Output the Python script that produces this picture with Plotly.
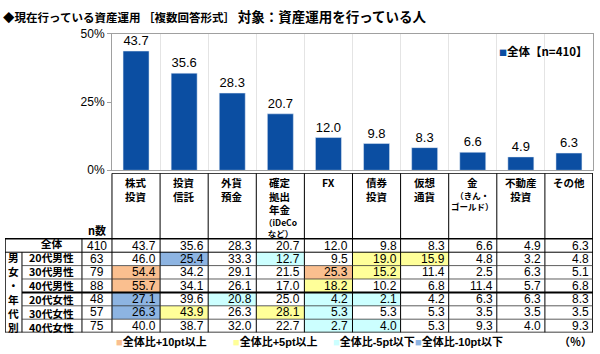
import plotly.graph_objects as go

# ---------------- data ----------------
TITLE_MAIN = "◆現在行っている資産運用 ［複数回答形式］"
TITLE_TARGET = "対象：資産運用を行っている人"
CATEGORIES = ["株式\n投資", "投資\n信託", "外貨\n預金", "確定\n拠出\n年金\n（iDeCo\nなど）", "FX",
              "債券\n投資", "仮想\n通貨", "金\n（きん・\nゴールド）", "不動産\n投資", "その他"]
TOTAL_VALUES = [43.7, 35.6, 28.3, 20.7, 12.0, 9.8, 8.3, 6.6, 4.9, 6.3]
TOTAL_NAME = "全体【n=410】"

ROW_LABELS = ["全体", "20代男性", "30代男性", "40代男性", "20代女性", "30代女性", "40代女性"]
GROUP_CHARS = ["男", "女", "・", "年", "代", "別"]
N_VALUES = [410, 63, 79, 88, 48, 57, 75]
TABLE_VALUES = [
    [43.7, 35.6, 28.3, 20.7, 12.0, 9.8, 8.3, 6.6, 4.9, 6.3],
    [46.0, 25.4, 33.3, 12.7, 9.5, 19.0, 15.9, 4.8, 3.2, 4.8],
    [54.4, 34.2, 29.1, 21.5, 25.3, 15.2, 11.4, 2.5, 6.3, 5.1],
    [55.7, 34.1, 26.1, 17.0, 18.2, 10.2, 6.8, 11.4, 5.7, 6.8],
    [27.1, 39.6, 20.8, 25.0, 4.2, 2.1, 4.2, 6.3, 6.3, 8.3],
    [26.3, 43.9, 26.3, 28.1, 5.3, 5.3, 5.3, 3.5, 3.5, 3.5],
    [40.0, 38.7, 32.0, 22.7, 2.7, 4.0, 5.3, 9.3, 4.0, 9.3],
]
# highlight level: 2=+10pt, 1=+5pt, -1=-5pt, -2=-10pt
HIGHLIGHT = [
    [0, 0, 0, 0, 0, 0, 0, 0, 0, 0],
    [0, -2, 0, -1, 0, 1, 1, 0, 0, 0],
    [2, 0, 0, 0, 2, 1, 0, 0, 0, 0],
    [2, 0, 0, 0, 1, 0, 0, 0, 0, 0],
    [-2, 0, -1, 0, -1, -1, 0, 0, 0, 0],
    [-2, 1, 0, 1, -1, 0, 0, 0, 0, 0],
    [0, 0, 0, 0, -1, -1, 0, 0, 0, 0],
]
LEGEND_ITEMS = ["全体比+10pt以上", "全体比+5pt以上", "全体比-5pt以下", "全体比-10pt以下"]
N_HEADER = "n数"
UNIT = "（％）"

# ---------------- style ----------------
W, H = 600, 354
BAR_COLOR = "#0B4EA2"
C_ORANGE, C_YELLOW, C_CYAN, C_BLUE = "#FABF8F", "#FFFF99", "#CCFFFF", "#8DB4E2"
LEGEND_COLORS = [C_ORANGE, C_YELLOW, C_CYAN, C_BLUE]
FONT = "Liberation Sans, Arial, Noto Sans CJK JP"
JFONT = "Noto Sans CJK JP, Liberation Sans"

def PX(x):
    return x / W

def PY(y):
    return 1 - y / H

# table geometry in axis units (one data column = 1 unit)
W_GROUP, W_LABEL, W_N = 0.353, 1.247, 0.624
LEFT_TOTAL = W_GROUP + W_LABEL + W_N
HEADER_U = 4.9
HEAD_MAIN_SIZE, HEAD_SUB_SIZE = 10.5, 8.5
TABLE_TOP_PX, TABLE_BOTTOM_PX = 173, 339
ncol = len(CATEGORIES)
nrow = len(ROW_LABELS)
ROW_PX = (TABLE_BOTTOM_PX - TABLE_TOP_PX) / (nrow + HEADER_U)
STACK_SIZE = ROW_PX / 1.3   # font size whose line pitch equals one row

fig = go.Figure()

# bar chart
fig.add_trace(go.Bar(
    x=list(range(ncol)), y=TOTAL_VALUES, width=0.54, marker_color=BAR_COLOR,
    text=[f"{v:.1f}" for v in TOTAL_VALUES], textposition="outside", cliponaxis=False,
    textfont=dict(family=FONT, size=13, color="#000"), name=TOTAL_NAME,
    showlegend=False, hoverinfo="skip", xaxis="x", yaxis="y"))

# table fill colors via heatmap
fig.add_trace(go.Heatmap(
    x=list(range(ncol)), y=list(range(nrow)), z=HIGHLIGHT, zmin=-2, zmax=2,
    colorscale=[[0, C_BLUE], [0.125, C_BLUE], [0.125, C_CYAN], [0.375, C_CYAN],
                [0.375, "#FFFFFF"], [0.625, "#FFFFFF"], [0.625, C_YELLOW], [0.875, C_YELLOW],
                [0.875, C_ORANGE], [1, C_ORANGE]],
    showscale=False, hoverinfo="skip", xaxis="x2", yaxis="y2"))

e0 = -0.5 - LEFT_TOTAL
e1 = e0 + W_GROUP
e2 = e1 + W_LABEL
e3 = e2 + W_N
h0 = -0.5 - HEADER_U
right = ncol - 0.5
bottom = nrow - 0.5

shapes = []

def line(x0, y0, x1, y1, w=1, c="#000"):
    shapes.append(dict(type="line", xref="x2", yref="y2", x0=x0, y0=y0, x1=x1, y1=y1,
                       line=dict(color=c, width=w), layer="above"))

# header
line(-0.5, h0, right, h0, 1.5)
for i in range(ncol + 1):
    line(i - 0.5, h0, i - 0.5, bottom, 1)
# outer frame of body
line(e0, -0.5, right, -0.5, 1.5)
line(e0, bottom, right, bottom, 1.5)
line(e0, -0.5, e0, bottom, 1.5)
line(right, h0, right, bottom, 1.5)
line(e1, 0.5, e1, bottom, 1)
line(e2, -0.5, e2, bottom, 1)
line(e0, 0.5, right, 0.5, 1)
for r in range(1, nrow - 1):
    if r == 3:
        line(e1, r + 0.5, right, r + 0.5, 2)
    else:
        line(e1, r + 0.5, right, r + 0.5, 0.8, "#333")

ann = []

def A(**kw):
    ann.append(kw)

# header labels: main lines in one block, parenthesised lines in a smaller block below
for i, cat in enumerate(CATEGORIES):
    lines = cat.split("\n")
    main = [l for l in lines if not l.startswith("（") and not l.endswith("）")]
    sub = [l for l in lines if l not in main]
    A(xref="x2", yref="y2", x=i, y=h0, yanchor="top", xanchor="center", yshift=-1,
      text="<br>".join(main), showarrow=False, borderpad=0,
      font=dict(family=JFONT, size=HEAD_MAIN_SIZE, color="#000", weight="bold"))
    if sub:
        A(xref="x2", yref="y2", x=i, y=h0, yanchor="top", xanchor="center",
          yshift=-(1 + 1.3 * HEAD_MAIN_SIZE * len(main)), text="<br>".join(sub),
          showarrow=False, borderpad=0,
          font=dict(family=JFONT, size=HEAD_SUB_SIZE, color="#000", weight="bold"))
A(xref="x2", yref="y2", x=(e2 + e3) / 2, y=-0.5, yanchor="bottom", yshift=-1, text=N_HEADER,
  showarrow=False, font=dict(family=JFONT, size=11, color="#000", weight="bold"))

# body: row labels as one multi-line text whose line pitch equals the row height
A(xref="x2", yref="y2", x=(e1 + e2) / 2, y=(nrow - 1) / 2, yanchor="middle",
  text="<br>".join(ROW_LABELS), showarrow=False, borderpad=0,
  font=dict(family=JFONT, size=STACK_SIZE, color="#000", weight="bold"))
for r in range(nrow):
    A(xref="x2", yref="y2", x=(e2 + e3) / 2, y=r, text=str(N_VALUES[r]), showarrow=False,
      borderpad=0, font=dict(family=FONT, size=12, color="#000"))
    for i in range(ncol):
        A(xref="x2", yref="y2", x=i + 0.5, y=r, xanchor="right", xshift=-3, borderpad=0,
          text=f"{TABLE_VALUES[r][i]:.1f}", showarrow=False,
          font=dict(family=FONT, size=12, color="#000"))
# vertical group label
A(xref="x2", yref="y2", x=(e0 + e1) / 2, y=(1 + len(GROUP_CHARS)) / 2, yanchor="middle",
  text="<br>".join(GROUP_CHARS), showarrow=False, borderpad=0,
  font=dict(family=JFONT, size=STACK_SIZE, color="#000", weight="bold"))

# title
A(xref="paper", yref="paper", x=PX(1), y=PY(9), xanchor="left", yanchor="middle",
  text=f"{TITLE_MAIN} <span style='font-size:13.5px'>{TITLE_TARGET}</span>", showarrow=False,
  font=dict(family=JFONT, size=11.5, color="#000", weight="bold"))
# series legend
A(xref="paper", yref="paper", x=PX(497), y=PY(46), xanchor="left", yanchor="middle",
  text=f"<span style='color:{BAR_COLOR};font-size:8px'>■</span>{TOTAL_NAME}", showarrow=False,
  font=dict(family=JFONT, size=11.5, color="#000", weight="bold"))
# bottom legend
for xpos, txt, col in zip([114, 231, 331, 413], LEGEND_ITEMS, LEGEND_COLORS):
    A(xref="paper", yref="paper", x=PX(xpos), y=PY(348), xanchor="left", yanchor="middle",
      text=f"<span style='color:{col}'>■</span>{txt}", showarrow=False,
      font=dict(family=FONT, size=11, color="#000", weight="bold"))
A(xref="paper", yref="paper", x=PX(594), y=PY(348), xanchor="right", yanchor="middle",
  text=UNIT, showarrow=False, font=dict(family=JFONT, size=11, color="#000", weight="bold"))

fig.update_layout(
    width=W, height=H, margin=dict(l=0, r=0, t=0, b=0),
    paper_bgcolor="white", plot_bgcolor="white", showlegend=False,
    xaxis=dict(domain=[PX(112), PX(593)], range=[-0.5, ncol - 0.5],
               tickvals=[i + 0.5 for i in range(ncol - 1)], showticklabels=False, ticks="",
               showgrid=True, gridcolor="#E4E4E4", gridwidth=1, zeroline=False,
               showline=True, mirror=True, linecolor="#A0A0A0", linewidth=1, fixedrange=True),
    yaxis=dict(domain=[PY(170), PY(28)], range=[0, 50], tickvals=[0, 25, 50],
               ticktext=["0%", "25%", "50%"], ticks="outside", ticklen=4, tickcolor="#A0A0A0",
               showgrid=False, zeroline=False, showline=True, mirror=True,
               linecolor="#A0A0A0", linewidth=1,
               tickfont=dict(family=FONT, size=12, color="#000")),
    xaxis2=dict(domain=[PX(5), PX(593)], range=[e0, right], visible=False, anchor="y2"),
    yaxis2=dict(domain=[PY(TABLE_BOTTOM_PX), PY(TABLE_TOP_PX)], range=[bottom, h0],
                visible=False, anchor="x2"),
    shapes=shapes, annotations=ann,
)

fig.write_html("out.html")
